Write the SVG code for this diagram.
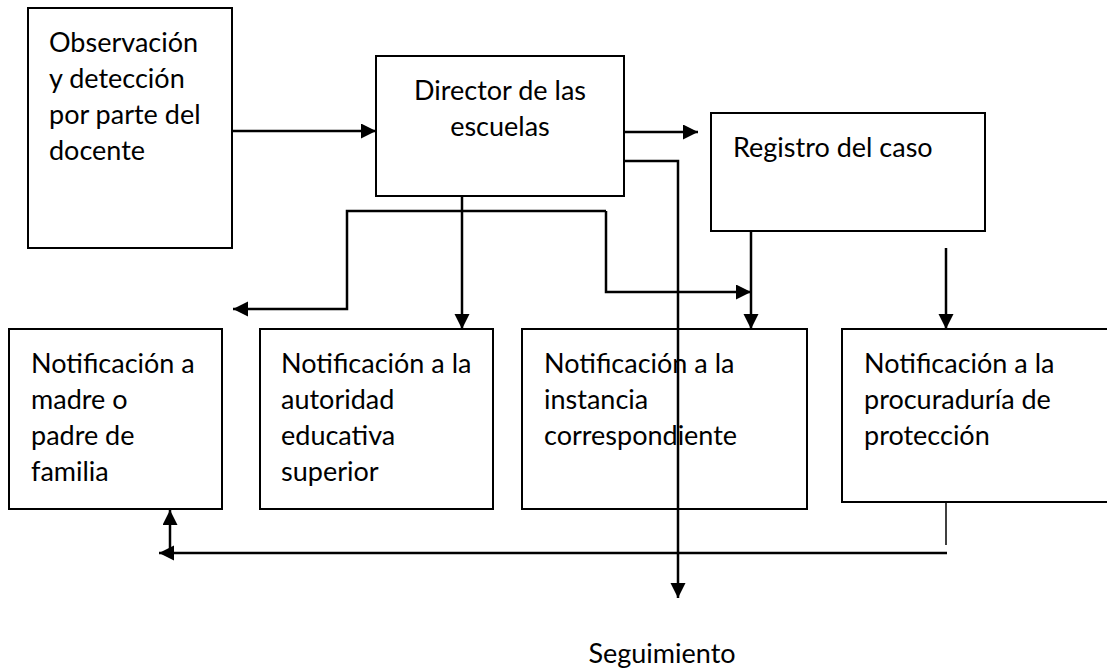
<svg xmlns="http://www.w3.org/2000/svg" width="1107" height="671" viewBox="0 0 1107 671">
<style>
.box{fill:#fff;stroke:#000;stroke-width:2}
.t{font-family:Lato,"Liberation Sans",sans-serif;font-size:27px;fill:#000}
.c{fill:none;stroke:#000;stroke-width:2.5}
.thin{fill:none;stroke:#000;stroke-width:1.5}
</style>
<defs>
<marker id="ah" markerUnits="userSpaceOnUse" markerWidth="16" markerHeight="16" refX="15" refY="7.5" orient="auto">
<path d="M0,0 L15,7.5 L0,15 Z" fill="#000"/>
</marker>
</defs>
<rect width="1107" height="671" fill="#fff"/>
<g id="n-observacion">
<rect class="box" x="28" y="8" width="204" height="240"/>
<text class="t" x="49" y="52">Observación</text>
<text class="t" x="49" y="88">y detección</text>
<text class="t" x="49" y="124">por parte del</text>
<text class="t" x="49" y="160">docente</text>
</g>
<g id="n-director">
<rect class="box" x="376" y="56" width="248" height="140"/>
<text class="t" x="500" y="100" text-anchor="middle">Director de las</text>
<text class="t" x="500" y="136" text-anchor="middle">escuelas</text>
</g>
<g id="n-registro">
<rect class="box" x="711" y="113" width="274" height="118"/>
<text class="t" x="733" y="157">Registro del caso</text>
</g>
<g id="n-madre">
<rect class="box" x="9" y="329" width="213" height="180"/>
<text class="t" x="31" y="373">Notificación a</text>
<text class="t" x="31" y="409">madre o</text>
<text class="t" x="31" y="445">padre de</text>
<text class="t" x="31" y="481">familia</text>
</g>
<g id="n-autoridad">
<rect class="box" x="260" y="329" width="233" height="180"/>
<text class="t" x="281" y="373">Notificación a la</text>
<text class="t" x="281" y="409">autoridad</text>
<text class="t" x="281" y="445">educativa</text>
<text class="t" x="281" y="481">superior</text>
</g>
<g id="n-instancia">
<rect class="box" x="522" y="329" width="285" height="180"/>
<text class="t" x="544" y="373">Notificación a la</text>
<text class="t" x="544" y="409">instancia</text>
<text class="t" x="544" y="445">correspondiente</text>
</g>
<g id="n-procuraduria">
<rect class="box" x="842" y="329" width="280" height="173"/>
<text class="t" x="864" y="373">Notificación a la</text>
<text class="t" x="864" y="409">procuraduría de</text>
<text class="t" x="864" y="445">protección</text>
</g>
<g id="n-seguimiento">
<text class="t" x="662" y="663" text-anchor="middle">Seguimiento</text>
</g>
<g id="connectors">
<path class="c" d="M232,131 H376" marker-end="url(#ah)"/>
<path class="c" d="M624,132 H698" marker-end="url(#ah)"/>
<path class="c" d="M624,161 H678 V598" marker-end="url(#ah)"/>
<path class="c" d="M462,196 V329" marker-end="url(#ah)"/>
<path class="c" d="M606,211 H347 V309 H233" marker-end="url(#ah)"/>
<path class="c" d="M606,211 V292 H751" marker-end="url(#ah)"/>
<path class="c" d="M751,231 V329" marker-end="url(#ah)"/>
<path class="c" d="M946,248 V329" marker-end="url(#ah)"/>
<path class="thin" d="M946,502 V545"/>
<path class="c" d="M947,553 H159" marker-end="url(#ah)"/>
<path class="c" d="M170,553 V510" marker-end="url(#ah)"/>
</g>
</svg>
